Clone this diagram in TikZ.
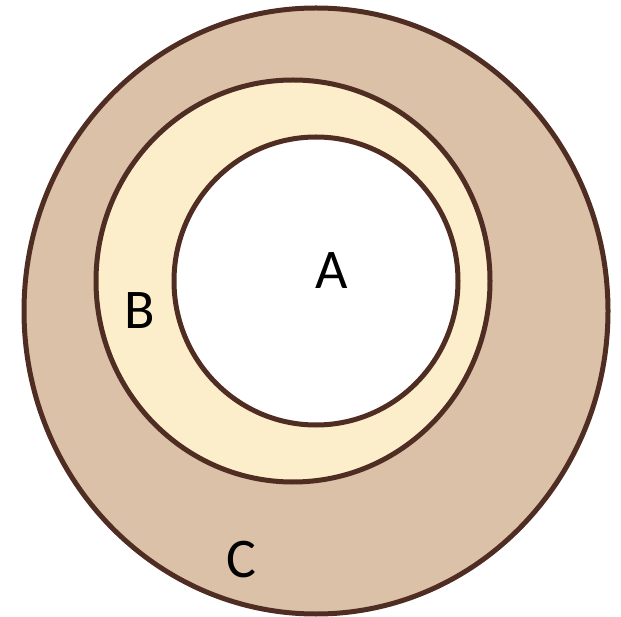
\documentclass[tikz,border=0pt]{standalone}
\usepackage{fontspec}
\setmainfont{Carlito}
\definecolor{ringline}{HTML}{4F2D22}
\definecolor{outerfill}{HTML}{DBC1A7}
\definecolor{midfill}{HTML}{FCEECB}
\begin{document}
\begin{tikzpicture}[x=1pt,y=-1pt,
  ring/.style={draw=ringline,line width=5pt},
  lbl/.style={font=\fontsize{56}{60}\selectfont,text=black,inner sep=0pt}]
\useasboundingbox (0,0) rectangle (621,617);
\draw[ring,fill=outerfill] (316,311) ellipse [x radius=292, y radius=303];
\draw[ring,fill=midfill] (293,281) ellipse [x radius=197, y radius=201];
\draw[ring,fill=white] (316,281) ellipse [x radius=142, y radius=144];
\node[lbl] (A) at (332,271) {A};
\node[lbl] (B) at (140,311) {B};
\node[lbl] (C) at (241,560) {C};
\end{tikzpicture}
\end{document}
